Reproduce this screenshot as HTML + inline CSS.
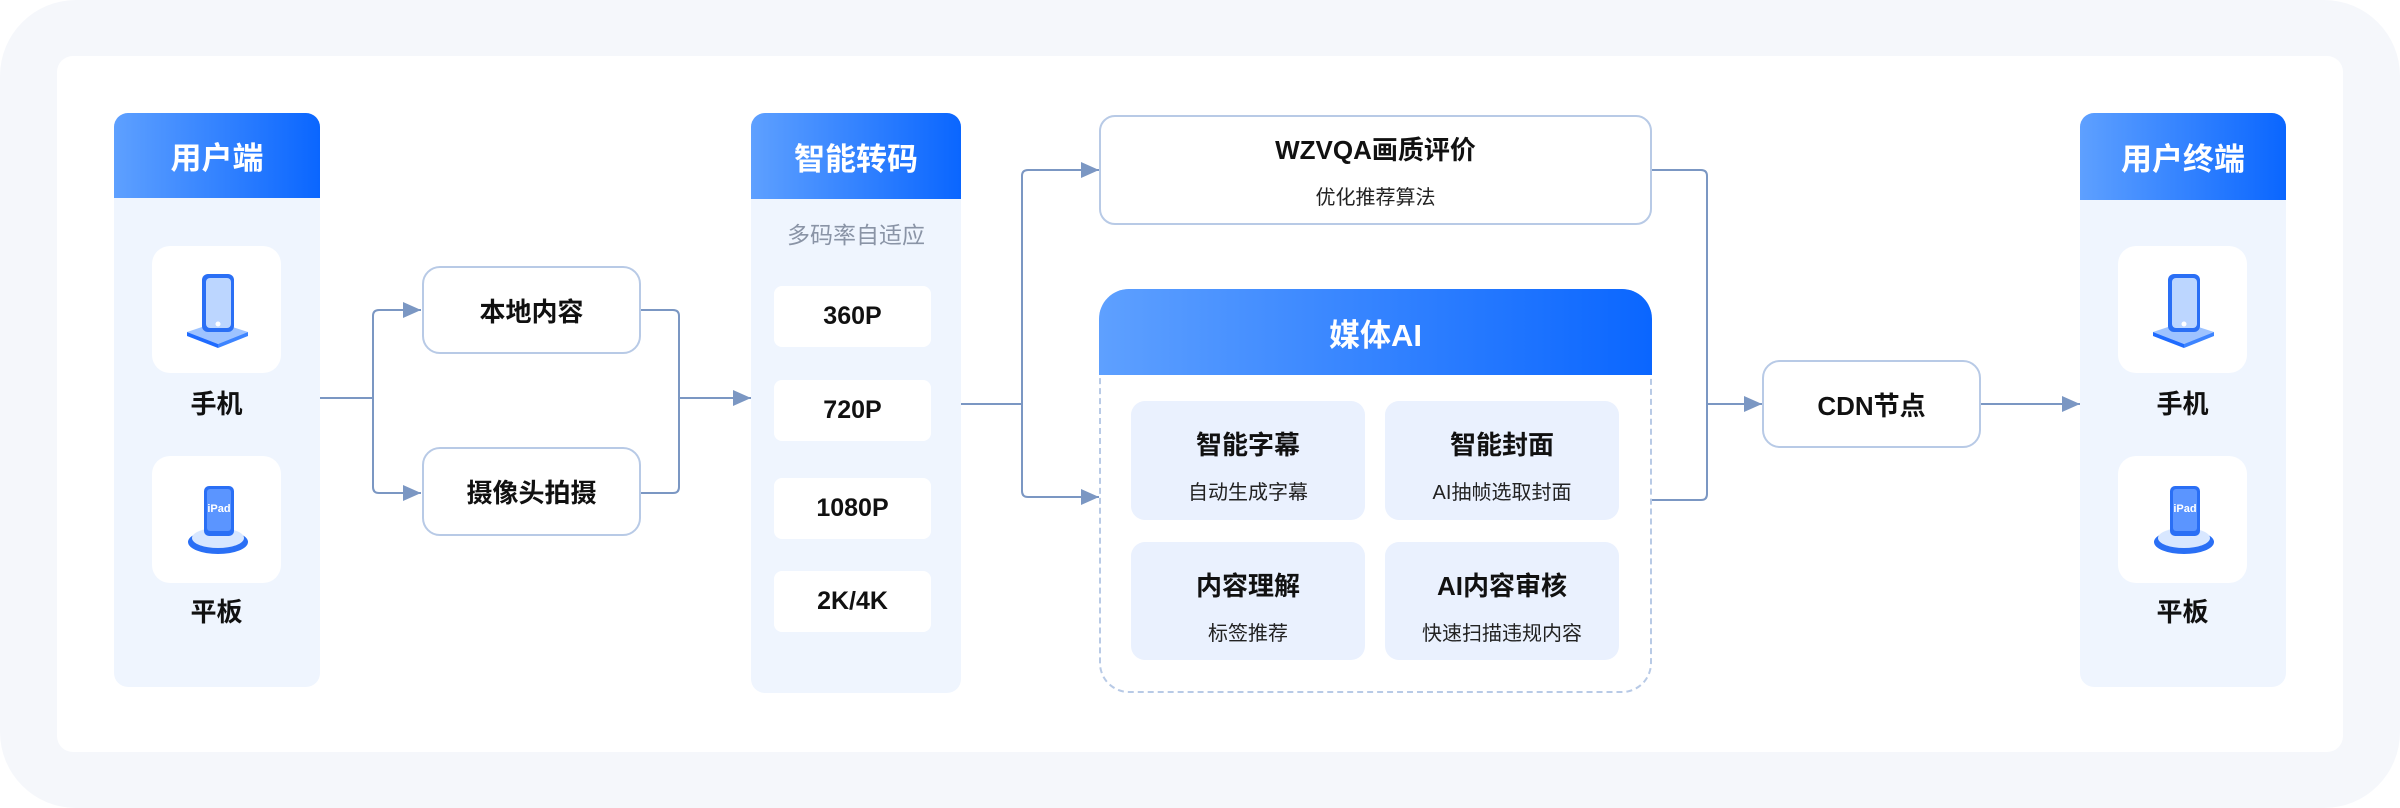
<!DOCTYPE html>
<html><head><meta charset="utf-8"><style>
*{margin:0;padding:0;box-sizing:border-box}
body{width:2400px;height:808px;background:#fff;font-family:"Liberation Sans","Noto Sans CJK SC",sans-serif;position:relative;overflow:hidden}
.a{position:absolute}
.outer{left:0;top:0;width:2400px;height:808px;background:#f5f7fb;border-radius:76px}
.inner{left:57px;top:56px;width:2286px;height:696px;background:#fff;border-radius:16px}
.col{background:#eff5fe;border-radius:14px;overflow:hidden}
.hd{position:absolute;left:0;top:0;width:100%;background:linear-gradient(90deg,#5ea0ff,#0a66ff);color:#fff;font-weight:bold;display:flex;align-items:center;justify-content:center;font-size:31px}
.card{background:#fff;border-radius:18px;display:flex;align-items:center;justify-content:center}
.lbl{font-size:26px;font-weight:bold;color:#111;text-align:center;width:205px}
.box{background:#fff;border:2px solid #b8cae6;border-radius:18px;display:flex;align-items:center;justify-content:center;font-size:26px;font-weight:bold;color:#111}
.btn{background:#fff;border-radius:8px;display:flex;align-items:center;justify-content:center;font-size:25px;font-weight:bold;color:#111}
.ic{background:#eaf1fe;border-radius:14px;text-align:center}
.ic b{display:block;font-size:26px;color:#111;margin-top:24px}
.ic span{display:block;font-size:20px;color:#222;margin-top:14px}
</style></head><body>
<div class="a outer"></div>
<div class="a inner"></div>

<svg class="a" style="left:0;top:0" width="2400" height="808">
<defs><marker id="ar" markerWidth="10" markerHeight="10" refX="9" refY="5" orient="auto" markerUnits="userSpaceOnUse"><path d="M0,0 L10,5 L0,10 z" fill="#7b97c3"/></marker>
<marker id="ar2" viewBox="0 0 18 16" markerWidth="18" markerHeight="16" refX="18" refY="8" orient="auto" markerUnits="userSpaceOnUse"><path d="M0,0 L18,8 L0,16 z" fill="#7b97c3"/></marker></defs>
<g fill="none" stroke="#7b97c3" stroke-width="2">
<path d="M320,398 H373"/>
<path d="M421,310 H379 q-6,0 -6,6 V487 q0,6 6,6 H421" marker-end="url(#ar2)"/>
<path d="M379,310 H421" marker-end="url(#ar2)"/>
<path d="M641,310 H673 q6,0 6,6 V487 q0,6 -6,6 H641"/>
<path d="M679,398 H751" marker-end="url(#ar2)"/>
<path d="M961,404 H1022"/>
<path d="M1099,170 H1028 q-6,0 -6,6 V491 q0,6 6,6 H1099" marker-end="url(#ar2)"/>
<path d="M1028,170 H1099" marker-end="url(#ar2)"/>
<path d="M1652,170 H1701 q6,0 6,6 V494 q0,6 -6,6 H1652"/>
<path d="M1707,404 H1762" marker-end="url(#ar2)"/>
<path d="M1981,404 H2080" marker-end="url(#ar2)"/>
</g>
</svg>

<!-- left column -->
<div class="a col" style="left:114px;top:113px;width:206px;height:574px">
<div class="hd" style="height:85px">用户端</div>
</div>
<div class="a card" style="left:152px;top:246px;width:129px;height:127px">
<svg width="70" height="80" viewBox="0 0 70 80"><path d="M5,62 L35,52 L66,62 L36,74 Z" fill="#9ec3ff"/><path d="M5,62 L36,74 L36,78 L5,66Z" fill="#1f6bff"/><path d="M36,74 L66,62 L66,66 L36,78Z" fill="#3d84ff"/><rect x="20" y="4" width="32" height="58" rx="6" fill="#2a6ff5"/><rect x="24" y="8" width="25" height="50" rx="4" fill="#bcd6ff"/><circle cx="36" cy="54" r="2.5" fill="#fff"/></svg>
</div>
<div class="a lbl" style="left:114px;top:384px">手机</div>
<div class="a card" style="left:152px;top:456px;width:129px;height:127px">
<svg width="70" height="80" viewBox="0 0 70 80"><ellipse cx="36" cy="62" rx="30" ry="12" fill="#2a6ff5"/><ellipse cx="36" cy="58" rx="26" ry="10" fill="#d8e7ff"/><rect x="22" y="6" width="30" height="50" rx="5" fill="#2a6ff5"/><rect x="25" y="9" width="24" height="42" rx="3" fill="#5b95ff"/><text x="37" y="32" font-size="11" fill="#fff" text-anchor="middle" font-family="Liberation Sans" font-weight="bold">iPad</text></svg>
</div>
<div class="a lbl" style="left:114px;top:592px">平板</div>

<div class="a box" style="left:422px;top:266px;width:219px;height:88px">本地内容</div>
<div class="a box" style="left:422px;top:447px;width:219px;height:89px">摄像头拍摄</div>

<!-- transcode -->
<div class="a col" style="left:751px;top:113px;width:210px;height:580px">
<div class="hd" style="height:86px">智能转码</div>
<div class="a" style="left:0;top:103px;width:210px;text-align:center;font-size:23px;color:#8a94a6">多码率自适应</div>
<div class="a btn" style="left:23px;top:173px;width:157px;height:61px">360P</div>
<div class="a btn" style="left:23px;top:267px;width:157px;height:61px">720P</div>
<div class="a btn" style="left:23px;top:365px;width:157px;height:61px">1080P</div>
<div class="a btn" style="left:23px;top:458px;width:157px;height:61px">2K/4K</div>
</div>

<!-- WZVQA -->
<div class="a box" style="left:1099px;top:115px;width:553px;height:110px;flex-direction:column;border-radius:16px">
<div style="font-size:26px">WZVQA画质评价</div>
<div style="font-size:20px;font-weight:normal;margin-top:14px;color:#222">优化推荐算法</div>
</div>

<!-- Media AI -->
<div class="a" style="left:1099px;top:289px;width:553px;height:404px;border:2px dashed #b8cae6;border-radius:30px"></div>
<div class="a" style="left:1099px;top:289px;width:553px;height:86px;border-radius:30px 30px 0 0;background:linear-gradient(90deg,#5ea0ff,#0a66ff);color:#fff;font-size:31px;font-weight:bold;display:flex;align-items:center;justify-content:center">媒体AI</div>
<div class="a ic" style="left:1131px;top:401px;width:234px;height:119px"><b>智能字幕</b><span>自动生成字幕</span></div>
<div class="a ic" style="left:1385px;top:401px;width:234px;height:119px"><b>智能封面</b><span>AI抽帧选取封面</span></div>
<div class="a ic" style="left:1131px;top:542px;width:234px;height:118px"><b>内容理解</b><span>标签推荐</span></div>
<div class="a ic" style="left:1385px;top:542px;width:234px;height:118px"><b>AI内容审核</b><span>快速扫描违规内容</span></div>

<div class="a box" style="left:1762px;top:360px;width:219px;height:88px">CDN节点</div>

<!-- right column -->
<div class="a col" style="left:2080px;top:113px;width:206px;height:574px">
<div class="hd" style="height:87px">用户终端</div>
</div>
<div class="a card" style="left:2118px;top:246px;width:129px;height:127px">
<svg width="70" height="80" viewBox="0 0 70 80"><path d="M5,62 L35,52 L66,62 L36,74 Z" fill="#9ec3ff"/><path d="M5,62 L36,74 L36,78 L5,66Z" fill="#1f6bff"/><path d="M36,74 L66,62 L66,66 L36,78Z" fill="#3d84ff"/><rect x="20" y="4" width="32" height="58" rx="6" fill="#2a6ff5"/><rect x="24" y="8" width="25" height="50" rx="4" fill="#bcd6ff"/><circle cx="36" cy="54" r="2.5" fill="#fff"/></svg>
</div>
<div class="a lbl" style="left:2080px;top:384px">手机</div>
<div class="a card" style="left:2118px;top:456px;width:129px;height:127px">
<svg width="70" height="80" viewBox="0 0 70 80"><ellipse cx="36" cy="62" rx="30" ry="12" fill="#2a6ff5"/><ellipse cx="36" cy="58" rx="26" ry="10" fill="#d8e7ff"/><rect x="22" y="6" width="30" height="50" rx="5" fill="#2a6ff5"/><rect x="25" y="9" width="24" height="42" rx="3" fill="#5b95ff"/><text x="37" y="32" font-size="11" fill="#fff" text-anchor="middle" font-family="Liberation Sans" font-weight="bold">iPad</text></svg>
</div>
<div class="a lbl" style="left:2080px;top:592px">平板</div>
</body></html>
